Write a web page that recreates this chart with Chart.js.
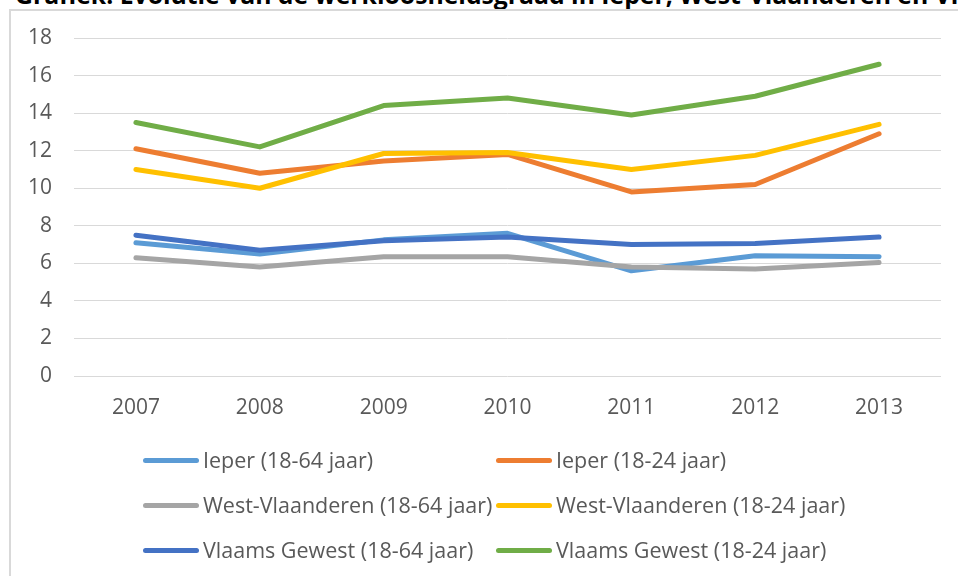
<!DOCTYPE html>
<html><head><meta charset="utf-8">
<script src="https://cdn.jsdelivr.net/npm/chart.js@4"></script>
<style>
html,body{margin:0;padding:0;background:#fff;width:958px;height:576px;overflow:hidden;position:relative;}
#title{position:absolute;left:15px;top:-16px;font-weight:bold;font-family:"Open Sans";color:#000;white-space:nowrap;}
#frame{position:absolute;left:9px;top:9px;width:1000px;height:600px;border-left:2px solid #d9d9d9;border-top:2px solid #d9d9d9;}
#c{position:absolute;left:0;top:0;}
.lg{position:absolute;display:flex;align-items:center;height:28px;white-space:nowrap;}
.sw{width:56px;height:5px;border-radius:3px;margin-right:4px;flex:none;}
.tx{font:21.5px "Open Sans";color:#595959;line-height:28px;}
</style></head>
<body>
<div id="title">Grafiek: Evolutie van de werkloosheidsgraad in Ieper, West-Vlaanderen en Vlaams Gewest</div>
<div id="frame"></div>
<canvas id="c" width="958" height="576"></canvas>
<div id="legend"></div>
<script>
const years = ['2007','2008','2009','2010','2011','2012','2013'];
const ieper1864   = [7.1, 6.5, 7.25, 7.6, 5.6, 6.4, 6.35];
const ieper1824   = [12.1, 10.8, 11.45, 11.8, 9.8, 10.2, 12.9];
const westVl1864  = [6.3, 5.8, 6.35, 6.35, 5.8, 5.7, 6.05];
const westVl1824  = [11.0, 10.0, 11.85, 11.9, 11.0, 11.75, 13.4];
const vlaams1864  = [7.5, 6.7, 7.2, 7.4, 7.0, 7.05, 7.4];
const vlaams1824  = [13.5, 12.2, 14.4, 14.8, 13.9, 14.9, 16.6];
const seriesNames = ['Ieper (18-64 jaar)','Ieper (18-24 jaar)','West-Vlaanderen (18-64 jaar)','West-Vlaanderen (18-24 jaar)','Vlaams Gewest (18-64 jaar)','Vlaams Gewest (18-24 jaar)'];
const yTicks = [0,2,4,6,8,10,12,14,16,18];

const seriesData = [ieper1864, ieper1824, westVl1864, westVl1824, vlaams1864, vlaams1824];
const colors = ['#5B9BD5','#ED7D31','#A5A5A5','#FFC000','#4472C4','#70AD47'];

// Title: size it so the visible part lines up with the reference crop
(function(){
  const t = document.getElementById('title');
  const ctx = document.createElement('canvas').getContext('2d');
  ctx.font = 'bold 100px "Open Sans"';
  const w = ctx.measureText('Grafiek: Evolutie van de werkloosheidsgraad in Ieper, West-Vlaanderen ').width;
  const size = 100 * 883 / w;
  t.style.fontSize = size + 'px';
  t.style.lineHeight = size + 'px';
  t.style.top = (4.5 - 0.888 * size) + 'px';
})();

const datasets = seriesData.map((d,i)=>({
  label: seriesNames[i], data: d, borderColor: colors[i], backgroundColor: colors[i],
  borderWidth: 5, pointRadius: 0, tension: 0, fill: false,
  borderCapStyle: 'round', borderJoinStyle: 'round', order: seriesData.length - i
}));

const font = {family: 'Open Sans', size: 21};
const chart = new Chart(document.getElementById('c'), {
  type: 'line',
  data: {labels: years, datasets},
  options: {
    responsive: false, animation: false, devicePixelRatio: 1,
    layout: {padding: {left: 0, right: 17, top: 38, bottom: 140}},
    plugins: {legend: {display: false}, title: {display: false}, tooltip: {enabled: false}},
    scales: {
      x: {offset: true, grid: {display: false, drawTicks: false}, border: {display: false},
          ticks: {color: '#595959', font, padding: 19, maxRotation: 0},
          afterFit(s){ s.height = 60; }},
      y: {min: yTicks[0], max: yTicks[yTicks.length-1],
          afterBuildTicks(s){ s.ticks = yTicks.map(v=>({value:v})); },
          ticks: {color: '#595959', font, padding: 22},
          grid: {color: '#d9d9d9', lineWidth: 1, drawTicks: false}, border: {display: false},
          afterFit(s){ s.width = 74; }}
    }
  }
});

// Legend (two columns, three rows) built from the chart's datasets
const legend = document.getElementById('legend');
const colX = [143, 496];
const rowY = [460, 505, 550];
chart.data.datasets.forEach((ds, i) => {
  const it = document.createElement('div');
  it.className = 'lg';
  it.style.left = colX[i % 2] + 'px';
  it.style.top = (rowY[Math.floor(i / 2)] - 14) + 'px';
  const sw = document.createElement('span');
  sw.className = 'sw'; sw.style.background = ds.borderColor;
  const tx = document.createElement('span');
  tx.className = 'tx'; tx.textContent = ds.label;
  it.appendChild(sw); it.appendChild(tx);
  legend.appendChild(it);
});
</script>
</body></html>
